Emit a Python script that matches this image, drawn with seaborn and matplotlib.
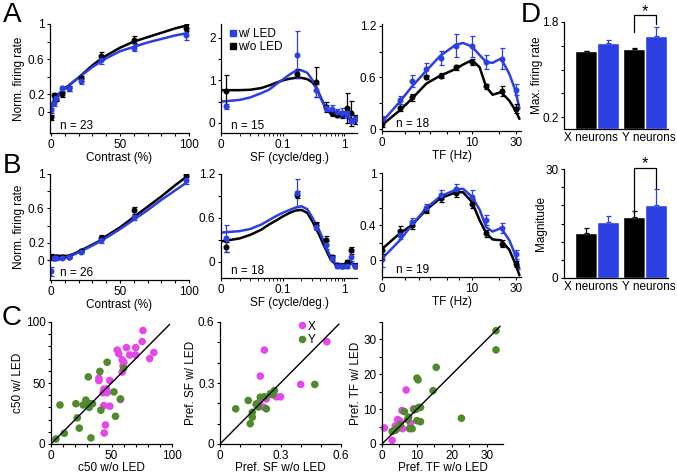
import numpy as np
import pandas as pd
import seaborn as sns
import matplotlib
matplotlib.use("Agg")
import matplotlib.pyplot as plt
from matplotlib.lines import Line2D

# ---------------- data ----------------
# contrast tuning (A1, B1)
contrast = [0, 2, 4, 8, 13, 22, 36, 60, 98]
a1_off = [-0.06, 0.19, 0.15, 0.20, 0.27, 0.38, 0.64, 0.82, 0.96]
a1_on = [0.02, 0.10, 0.16, 0.27, 0.27, 0.35, 0.59, 0.73, 0.88]
a1_off_err = [0.03, 0.03, 0.03, 0.03, 0.03, 0.03, 0.04, 0.04, 0.04]
a1_on_err = [0.03, 0.03, 0.03, 0.03, 0.03, 0.03, 0.04, 0.04, 0.06]
b1_off = [0.04, 0.03, 0.04, 0.04, 0.04, 0.11, 0.26, 0.58, 0.99]
b1_on = [-0.13, 0.02, 0.02, 0.03, 0.04, 0.10, 0.23, 0.50, 0.93]
b1_off_err = [0.03, 0.02, 0.02, 0.02, 0.02, 0.02, 0.03, 0.04, 0.03]
b1_on_err = [0.05, 0.02, 0.02, 0.02, 0.02, 0.02, 0.03, 0.03, 0.05]

contrast_fit = [0, 1, 2, 4, 6, 8, 12, 16, 20, 25, 30, 36, 40, 50, 60, 70, 80, 90, 100]
a1_fit_off = [0.02, 0.09, 0.13, 0.17, 0.21, 0.24, 0.29, 0.34, 0.39, 0.46, 0.53, 0.60, 0.64, 0.73, 0.80, 0.85, 0.90, 0.95, 0.99]
a1_fit_on = [0.03, 0.09, 0.13, 0.17, 0.21, 0.24, 0.29, 0.34, 0.39, 0.45, 0.51, 0.57, 0.61, 0.69, 0.74, 0.79, 0.83, 0.87, 0.90]
b1_fit_off = [0.05, 0.05, 0.05, 0.05, 0.05, 0.05, 0.05, 0.07, 0.10, 0.14, 0.18, 0.23, 0.28, 0.38, 0.50, 0.62, 0.74, 0.87, 0.99]
b1_fit_on = [0.00, 0.00, 0.01, 0.01, 0.01, 0.02, 0.04, 0.06, 0.09, 0.13, 0.17, 0.22, 0.26, 0.36, 0.47, 0.58, 0.70, 0.81, 0.92]

# spatial frequency tuning (A2, B2)
sf = [0.012, 0.17, 0.35, 0.5, 0.62, 0.75, 0.9, 1.1, 1.3, 1.5]
a2_off = [0.75, 1.16, 0.96, 0.38, 0.22, 0.18, 0.20, 0.35, 0.22, 0.08]
a2_on = [0.39, 1.61, 0.77, 0.35, 0.33, 0.25, 0.24, 0.22, 0.05, 0.10]
a2_off_err = [0.38, 0.10, 0.35, 0.12, 0.06, 0.05, 0.08, 0.35, 0.30, 0.10]
a2_on_err = [0.06, 0.55, 0.15, 0.08, 0.08, 0.08, 0.10, 0.08, 0.06, 0.05]
b2_off = [0.20, 0.92, 0.50, 0.30, 0.06, -0.04, -0.05, 0.00, 0.16, -0.05]
b2_on = [0.32, 0.94, 0.48, 0.23, 0.05, -0.05, -0.06, -0.06, 0.07, -0.06]
b2_off_err = [0.07, 0.05, 0.05, 0.05, 0.03, 0.03, 0.03, 0.03, 0.05, 0.03]
b2_on_err = [0.19, 0.19, 0.05, 0.05, 0.03, 0.03, 0.03, 0.03, 0.06, 0.03]

sf_fit = [0.01, 0.02, 0.03, 0.045, 0.06, 0.08, 0.1, 0.13, 0.16, 0.2, 0.25, 0.3, 0.35, 0.4, 0.45, 0.5, 0.6, 0.75, 1.0, 1.2, 1.6]
a2_fit_off = [0.77, 0.77, 0.78, 0.82, 0.88, 0.95, 1.00, 1.04, 1.06, 1.06, 1.03, 0.96, 0.83, 0.65, 0.48, 0.35, 0.22, 0.20, 0.18, 0.12, 0.00]
a2_fit_on = [0.50, 0.54, 0.60, 0.70, 0.78, 0.92, 1.02, 1.14, 1.22, 1.24, 1.18, 1.02, 0.83, 0.63, 0.47, 0.35, 0.22, 0.20, 0.18, 0.08, 0.00]
b2_fit_off = [0.28, 0.32, 0.37, 0.44, 0.51, 0.57, 0.62, 0.67, 0.70, 0.71, 0.67, 0.56, 0.45, 0.35, 0.25, 0.17, 0.03, -0.05, -0.04, 0.00, -0.06]
b2_fit_on = [0.40, 0.42, 0.45, 0.51, 0.57, 0.63, 0.67, 0.71, 0.74, 0.76, 0.72, 0.61, 0.50, 0.41, 0.31, 0.22, 0.06, -0.05, -0.04, -0.02, -0.06]

# temporal frequency tuning (A3, B3)
tf = [0, 0.75, 1.43, 2.6, 4.2, 6.6, 10, 14.5, 21, 30]
a3_off = [0.06, 0.25, 0.37, 0.60, 0.62, 0.72, 0.78, 0.50, 0.44, 0.24]
a3_on = [0.12, 0.34, 0.56, 0.70, 0.83, 0.97, 0.96, 0.78, 0.82, 0.46]
a3_off_err = [0.03, 0.04, 0.04, 0.02, 0.03, 0.03, 0.04, 0.03, 0.06, 0.05]
a3_on_err = [0.03, 0.05, 0.07, 0.07, 0.08, 0.13, 0.12, 0.08, 0.12, 0.06]
b3_off = [0.12, 0.34, 0.40, 0.58, 0.71, 0.77, 0.65, 0.31, 0.19, -0.04]
b3_on = [0.02, 0.29, 0.44, 0.60, 0.75, 0.82, 0.73, 0.46, 0.37, 0.07]
b3_off_err = [0.05, 0.05, 0.04, 0.04, 0.04, 0.04, 0.05, 0.04, 0.04, 0.03]
b3_on_err = [0.10, 0.05, 0.05, 0.05, 0.05, 0.05, 0.07, 0.06, 0.06, 0.05]

tf_fit = [0, 0.75, 1.43, 2.6, 4.1, 6.5, 7.9, 10, 12.2, 14.4, 16.9, 20.8, 25.4, 29.3, 32.3]
a3_fit_off = [0.05, 0.22, 0.35, 0.53, 0.62, 0.70, 0.75, 0.80, 0.72, 0.49, 0.40, 0.43, 0.33, 0.22, 0.12]
a3_fit_on = [0.085, 0.32, 0.49, 0.68, 0.85, 0.98, 1.00, 0.96, 0.86, 0.78, 0.77, 0.82, 0.64, 0.45, 0.24]
b3_fit_off = [0.13, 0.31, 0.40, 0.58, 0.71, 0.78, 0.78, 0.67, 0.46, 0.31, 0.24, 0.23, 0.12, -0.04, -0.17]
b3_fit_on = [0.02, 0.23, 0.40, 0.60, 0.73, 0.81, 0.82, 0.73, 0.58, 0.38, 0.33, 0.37, 0.23, 0.06, -0.10]

# scatter (C)
c50_x_off = [76, 75.3, 54.7, 56, 62.4, 70, 65, 70, 85, 81.6, 58.8, 60.2, 59.6, 58.8, 39.6, 39.6, 48.6, 43.7, 45.9, 43, 46.4, 43.7, 48.6, 57.4, 45, 44]
c50_x_on = [93, 84, 77, 74, 79, 79, 73, 73, 75, 70, 69, 67, 64, 59, 54, 52, 52, 45, 45, 42, 42, 31.5, 31, 36.4, 15.6, 9]
c50_y_off = [40.4, 46.4, 30.8, 7.4, 20.6, 28.8, 26.6, 31.6, 34.3, 31.6, 41.2, 52, 57.4, 53.3, 21.7, 23.4, 11, 4.1, 33, 60]
c50_y_on = [59.5, 67, 55, 32, 33, 36, 32, 33, 33, 30, 27.7, 42.7, 37, 22.7, 21.4, 13, 8.8, 4.1, 5, 62]

sf_x_off = [0.53, 0.22, 0.20, 0.40, 0.28, 0.30, 0.23, 0.20, 0.215, 0.18]
sf_x_on = [0.503, 0.462, 0.334, 0.293, 0.232, 0.232, 0.222, 0.215, 0.182, 0.194]
sf_y_off = [0.47, 0.27, 0.25, 0.26, 0.22, 0.14, 0.18, 0.19, 0.23, 0.078, 0.16, 0.16, 0.15, 0.20]
sf_y_on = [0.293, 0.263, 0.248, 0.243, 0.232, 0.214, 0.197, 0.182, 0.173, 0.173, 0.156, 0.132, 0.100, 0.23]

tf_x_off = [6.9, 5.7, 9.0, 4.5, 5.2, 5.9, 8.1, 3.8, 0.7, 2.9, 4.8]
tf_x_on = [15.5, 9.6, 10.1, 7.0, 6.5, 4.4, 6.0, 5.2, 4.6, 1.05, 5.5]
tf_y_off = [32.6, 32.6, 15.5, 10, 10.3, 14.6, 22.7, 10.5, 11, 9.8, 6.4, 7.6, 7.9, 8.6, 10, 11, 4.3, 3.8, 2.9, 5.2, 7.3, 9.2]
tf_y_on = [32.5, 27, 22, 18.9, 18.4, 15.3, 7.4, 10.5, 10.5, 10, 9.3, 7.7, 4.4, 4.4, 6.7, 6.4, 4.4, 3.9, 3.6, 5.5, 7, 9.8]

# bars (D)
groups = ["X neurons", "Y neurons"]
max_rate_off = [1.31, 1.34]
max_rate_on = [1.45, 1.56]
max_rate_off_err = [0.01, 0.015]
max_rate_on_err = [0.04, 0.16]
magnitude_off = [12.3, 16.7]
magnitude_on = [15.5, 20.0]
magnitude_off_err = [1.4, 1.8]
magnitude_on_err = [1.6, 4.5]

# ---------------- style ----------------
BLUE = "#2b3fe3"
BLACK = "#000000"
MAGENTA = "#e448e8"
GREEN = "#4f8a2b"

sns.set_style("ticks")
plt.rcParams["font.family"] = ["Liberation Sans", "DejaVu Sans"]
plt.rcParams["font.size"] = 8.5
plt.rcParams["text.color"] = "black"
plt.rcParams["axes.labelcolor"] = "black"
plt.rcParams["axes.edgecolor"] = "black"
plt.rcParams["xtick.color"] = "black"
plt.rcParams["ytick.color"] = "black"
plt.rcParams["axes.linewidth"] = 0.9
plt.rcParams["xtick.major.size"] = 2.5
plt.rcParams["ytick.major.size"] = 2.5
plt.rcParams["xtick.minor.size"] = 2.0
plt.rcParams["ytick.minor.size"] = 2.0
plt.rcParams["xtick.major.pad"] = 1.5
plt.rcParams["ytick.major.pad"] = 1.5
plt.rcParams["xtick.labelsize"] = 8.5
plt.rcParams["ytick.labelsize"] = 8.5

W, H = 677, 476
fig = plt.figure(figsize=(W / 100, H / 100), dpi=100)


def add_ax(l, t, r, b):
    ax = fig.add_axes([l / W, 1 - b / H, (r - l) / W, (b - t) / H])
    sns.despine(ax=ax)
    return ax


def set_ticks(ax, axis, ticks, labels):
    if axis == "x":
        ax.set_xticks(ticks)
        ax.set_xticklabels(labels)
    else:
        ax.set_yticks(ticks)
        ax.set_yticklabels(labels)


def tuning(ax, xd, off, on, off_err, on_err, xf, fit_off, fit_on):
    sns.lineplot(x=xf, y=fit_off, color=BLACK, lw=1.8, ax=ax, sort=False, estimator=None)
    sns.lineplot(x=xf, y=fit_on, color=BLUE, lw=1.8, ax=ax, sort=False, estimator=None)
    ax.errorbar(xd, off, yerr=off_err, fmt="o", ms=3.3, color=BLACK, capsize=1.8,
                elinewidth=0.9, capthick=0.9)
    ax.errorbar(xd, on, yerr=on_err, fmt="o", ms=3.3, color=BLUE, capsize=1.8,
                elinewidth=0.9, capthick=0.9)


def tf_fwd(x):
    return np.log10(np.asarray(x) + 1.5)


def tf_inv(y):
    return 10 ** np.asarray(y) - 1.5


# ---- A1 / B1 contrast ----
for (t, b), off, on, oe, ne, fo, fn, yl, n in [
        ((24, 133), a1_off, a1_on, a1_off_err, a1_on_err, a1_fit_off, a1_fit_on, (-0.24, 1.0), "n = 23"),
        ((174, 280), b1_off, b1_on, b1_off_err, b1_on_err, b1_fit_off, b1_fit_on, (-0.23, 1.0), "n = 26")]:
    ax = add_ax(50, t, 189, b)
    tuning(ax, contrast, off, on, oe, ne, contrast_fit, fo, fn)
    ax.set_xlim(-0.7, 100)
    ax.set_ylim(*yl)
    set_ticks(ax, "x", list(range(0, 101, 10)), ["0", "", "", "", "", "50", "", "", "", "", "100"])
    set_ticks(ax, "y", [0, 0.2, 0.4, 0.6, 0.8, 1], ["0", "0.2", "", "0.6", "", "1"])
    ax.set_xlabel("Contrast (%)", labelpad=1)
    ax.set_ylabel("Norm. firing rate", labelpad=2)
    ax.text(0.07, 0.04, n, transform=ax.transAxes, fontsize=8.5)

# ---- A2 / B2 spatial frequency ----
for (t, b), off, on, oe, ne, fo, fn, yl, yt, ytl, n in [
        ((24, 133), a2_off, a2_on, a2_off_err, a2_on_err, a2_fit_off, a2_fit_on, (-0.24, 2.33),
         [0, 0.5, 1, 1.5, 2], ["0", "", "1", "", "2"], "n = 15"),
        ((174, 278), b2_off, b2_on, b2_off_err, b2_on_err, b2_fit_off, b2_fit_on, (-0.22, 1.2),
         [0, 0.3, 0.6, 0.9, 1.2], ["0", "", "0.6", "", "1.2"], "n = 18")]:
    ax = add_ax(221, t, 357, b)
    ax.set_xscale("log")
    tuning(ax, sf, off, on, oe, ne, sf_fit, fo, fn)
    ax.set_xlim(0.01, 1.6)
    ax.set_ylim(*yl)
    set_ticks(ax, "x", [0.01, 0.1, 1], ["0", "0.1", "1"])
    ax.set_xticks([k * 10.0 ** e for e in (-2, -1, 0) for k in range(2, 10) if k * 10.0 ** e <= 1.6],
                  minor=True)
    set_ticks(ax, "y", yt, ytl)
    ax.set_xlabel("SF (cycle/deg.)", labelpad=1)
    ax.text(0.07, 0.04, n, transform=ax.transAxes, fontsize=8.5)
    if n == "n = 15":
        handles = [Line2D([], [], marker="s", ls="", color=BLUE, ms=4.5, label="w/ LED"),
                   Line2D([], [], marker="s", ls="", color=BLACK, ms=4.5, label="w/o LED")]
        ax.legend(handles=handles, loc="upper left", bbox_to_anchor=(0.0, 1.03), frameon=False,
                  handletextpad=0.0, borderpad=0.1, labelspacing=0.1, handlelength=0.8,
                  fontsize=8.5)

# ---- A3 / B3 temporal frequency ----
for (t, b), off, on, oe, ne, fo, fn, yl, yt, ytl, n in [
        ((24, 131), a3_off, a3_on, a3_off_err, a3_on_err, a3_fit_off, a3_fit_on, (-0.02, 1.22),
         [0, 0.3, 0.6, 0.9, 1.2], ["0", "", "0.6", "", "1.2"], "n = 18"),
        ((173, 277), b3_off, b3_on, b3_off_err, b3_on_err, b3_fit_off, b3_fit_on, (-0.19, 1.0),
         [0, 0.2, 0.4, 0.6, 0.8, 1], ["0", "", "0.4", "", "", "1"], "n = 19")]:
    ax = add_ax(382, t, 521, b)
    ax.set_xscale("function", functions=(tf_fwd, tf_inv))
    tuning(ax, tf, off, on, oe, ne, tf_fit, fo, fn)
    ax.set_xlim(0, 33.5)
    ax.set_ylim(*yl)
    set_ticks(ax, "x", [0, 1, 2, 3, 5, 7, 10, 20, 30], ["0", "", "", "", "", "", "10", "", "30"])
    ax.xaxis.set_minor_locator(matplotlib.ticker.NullLocator())
    set_ticks(ax, "y", yt, ytl)
    ax.set_xlabel("TF (Hz)", labelpad=1)
    ax.text(0.1, 0.04, n, transform=ax.transAxes, fontsize=8.5)

# ---- C scatter ----
scatter_sets = [
    (51, 172, c50_x_off, c50_x_on, c50_y_off, c50_y_on, (0, 100), (0, 100), 98,
     list(range(0, 101, 10)), ["0", "", "", "", "", "50", "", "", "", "", "100"],
     list(range(0, 101, 10)), ["0", "", "", "", "", "50", "", "", "", "", "100"],
     "c50 w/o LED", "c50 w/ LED"),
    (220, 341, sf_x_off, sf_x_on, sf_y_off, sf_y_on, (0, 0.6), (0, 0.6), 0.59,
     [0, 0.1, 0.2, 0.3, 0.4, 0.5, 0.6], ["0", "", "", "0.3", "", "", "0.6"],
     [0, 0.1, 0.2, 0.3, 0.4, 0.5, 0.6], ["0", "", "", "0.3", "", "", "0.6"],
     "Pref. SF w/o LED", "Pref. SF w/ LED"),
    (382, 503, tf_x_off, tf_x_on, tf_y_off, tf_y_on, (0, 34.6), (0, 35), 33.8,
     [0, 5, 10, 15, 20, 25, 30], ["0", "", "10", "", "20", "", "30"],
     [0, 5, 10, 15, 20, 25, 30, 35], ["0", "", "10", "", "20", "", "30", ""],
     "Pref. TF w/o LED", "Pref. TF w/ LED"),
]
for i, (l, r, xo, yo, xg, yg, xl, yl, dmax, xt, xtl, yt, ytl, xlab, ylab) in enumerate(scatter_sets):
    ax = add_ax(l, 322, r, 444)
    df = pd.DataFrame({"off": list(xo) + list(xg), "on": list(yo) + list(yg),
                       "type": ["X"] * len(xo) + ["Y"] * len(xg)})
    ax.plot([0, dmax], [0, dmax], color="black", lw=1.0, zorder=3)
    sns.scatterplot(data=df, x="off", y="on", hue="type", palette={"X": MAGENTA, "Y": GREEN},
                    s=30, linewidth=0, ax=ax, legend=(i == 1), zorder=2, clip_on=False)
    ax.set_xlim(*xl)
    ax.set_ylim(*yl)
    set_ticks(ax, "x", xt, xtl)
    set_ticks(ax, "y", yt, ytl)
    ax.set_xlabel(xlab, labelpad=0)
    ax.set_ylabel(ylab, labelpad=1)
    if i == 1:
        ax.legend(loc="upper left", bbox_to_anchor=(0.58, 1.06), frameon=False,
                  handletextpad=0.0, borderpad=0.0, labelspacing=0.1, handlelength=1.0,
                  fontsize=8.5)

# ---- D bars ----
for (t, b), off, on, oe, ne, yl, yt, ytl, ylab, brk in [
        ((22, 129), max_rate_off, max_rate_on, max_rate_off_err, max_rate_on_err, (0, 1.8),
         [0.2, 0.6, 1.0, 1.4, 1.8], ["0.2", "", "", "", "1.8"], "Max. firing rate", (1.63, 1.76, 1.91, 1.97)),
        ((169, 278), magnitude_off, magnitude_on, magnitude_off_err, magnitude_on_err, (0, 30),
         [0, 5, 10, 15, 20, 25, 30], ["0", "", "", "", "", "", "30"], "Magnitude", (17.8, 24.8, 30.3, 31.4))]:
    ax = add_ax(564, t, 668, b)
    df = pd.DataFrame({"group": groups * 2, "val": list(off) + list(on),
                       "cond": ["w/o LED"] * 2 + ["w/ LED"] * 2})
    sns.barplot(data=df, x="group", y="val", hue="cond", palette=[BLACK, BLUE], width=0.9,
                errorbar=None, saturation=1, legend=False, ax=ax)
    centers = [p.get_x() + p.get_width() / 2 for p in ax.patches][:4]
    vals = list(off) + list(on)
    errs = list(oe) + list(ne)
    cols = [BLACK, BLACK, BLUE, BLUE]
    for xc, v, e, c in zip(centers, vals, errs, cols):
        ax.errorbar([xc], [v], yerr=[[0], [e]], fmt="none", ecolor=c, capsize=1.8,
                    elinewidth=0.9, capthick=0.9)
    ax.set_xlim(-0.68, 1.47)
    ax.set_ylim(*yl)
    set_ticks(ax, "x", [-0.12, 1.07], groups)
    set_ticks(ax, "y", yt, ytl)
    ax.tick_params(axis="x", length=0, pad=2)
    ax.set_xlabel("")
    ax.set_ylabel(ylab, labelpad=-1)
    # significance bracket between Y neuron bars
    lo_l, lo_r, top, star = brk
    xl_, xr_ = centers[1], centers[3]
    ax.plot([xl_, xl_, xr_, xr_], [lo_l, top, top, lo_r], color="black", lw=0.9, clip_on=False)
    ax.text((xl_ + xr_) / 2, star, "*", ha="center", va="center", fontsize=12, clip_on=False)

# panel letters
for letter, x, y in [("A", 3, 15), ("B", 3, 166), ("C", 2, 318), ("D", 521, 15)]:
    fig.text(x / W, 1 - y / H, letter, fontsize=20, va="center", ha="left")

fig.savefig("out.png", dpi=100)
